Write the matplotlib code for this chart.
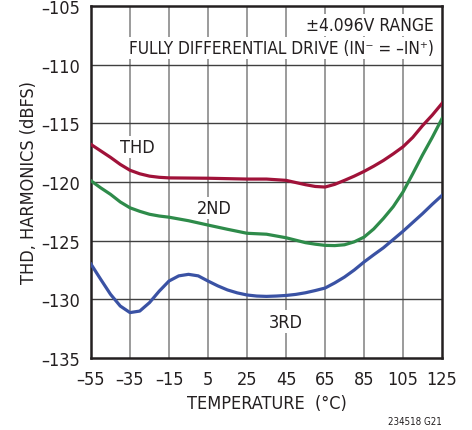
import numpy as np
import matplotlib
matplotlib.use("Agg")
import matplotlib.pyplot as plt

plt.rcParams['font.family'] = ['DejaVu Sans']
plt.rcParams['font.stretch'] = 'condensed'

# temperatures (degC) and readings (dBFS) taken off the datasheet plot
temp_thd = [-55, -50, -45, -40, -35, -30, -25, -20, -15, 5, 25, 35, 45, 55, 60, 65, 70, 75, 80,
            85, 90, 95, 100, 105, 110, 115, 120, 125]
thd = [-116.8, -117.35, -117.9, -118.5, -119.0, -119.3, -119.5, -119.6, -119.65, -119.68,
       -119.75, -119.75, -119.86, -120.23, -120.38, -120.43, -120.2, -119.86, -119.5, -119.1,
       -118.65, -118.16, -117.6, -117.0, -116.2, -115.2, -114.3, -113.3]

temp_2nd = [-55, -50, -45, -40, -35, -30, -25, -20, -15, -5, 5, 15, 25, 35, 45, 55, 60, 65, 70,
            75, 80, 85, 90, 95, 100, 105, 110, 115, 120, 125]
second = [-119.9, -120.5, -121.05, -121.7, -122.2, -122.5, -122.75, -122.9, -123.0, -123.3,
          -123.67, -124.03, -124.37, -124.45, -124.75, -125.17, -125.3, -125.4, -125.42, -125.35,
          -125.1, -124.7, -124.0, -123.1, -122.1, -120.85, -119.3, -117.7, -116.2, -114.6]

temp_3rd = [-55, -50, -45, -40, -35, -30, -25, -20, -15, -10, -5, 0, 5, 10, 15, 20, 25, 30, 35,
            40, 45, 50, 55, 60, 65, 70, 75, 80, 85, 90, 95, 100, 105, 110, 115, 120, 125]
third = [-127.0, -128.3, -129.57, -130.57, -131.13, -131.0, -130.28, -129.3, -128.44, -128.0,
         -127.87, -128.0, -128.44, -128.85, -129.2, -129.45, -129.63, -129.72, -129.75, -129.72,
         -129.67, -129.58, -129.44, -129.25, -129.04, -128.6, -128.1, -127.5, -126.82, -126.2,
         -125.6, -124.9, -124.2, -123.45, -122.7, -121.9, -121.14]

xticks = [-55, -35, -15, 5, 25, 45, 65, 85, 105, 125]
yticks = [-135, -130, -125, -120, -115, -110, -105]

c_thd = "#A01239"
c_2nd = "#2E8B4A"
c_3rd = "#3A52A4"

fig = plt.figure(figsize=(4.72, 4.31), dpi=100)
ax = fig.add_axes([91/472, 1-359/431, 351/472, 352/431])

ax.plot(temp_thd, thd, color=c_thd, lw=2.3, zorder=3)
ax.plot(temp_2nd, second, color=c_2nd, lw=2.3, zorder=3)
ax.plot(temp_3rd, third, color=c_3rd, lw=2.3, zorder=3)

ax.set_xlim(-55, 125)
ax.set_ylim(-135, -105)
ax.set_xticks(xticks)
ax.set_yticks(yticks)
ax.set_xticklabels([str(t).replace('-', '\u2013') for t in xticks])
ax.set_yticklabels([str(t).replace('-', '\u2013') for t in yticks])
ax.tick_params(length=0, labelsize=13, colors='#231f20')
ax.tick_params(axis='x', pad=9)
ax.tick_params(axis='y', pad=8)

for v in xticks[1:-1]:
    ax.axvline(v, color='#808080', lw=1.1, zorder=1)
for v in yticks[1:-1]:
    ax.axhline(v, color='#404040', lw=1.0, zorder=1)
for s in ax.spines.values():
    s.set_linewidth(1.8)
    s.set_color('#231f20')

box = dict(facecolor='white', edgecolor='none', pad=1.5)
ax.text(121, -106.6, '\u00b14.096V RANGE', ha='right', va='center', fontsize=12.5,
        color='#231f20', bbox=box, zorder=2)
ax.text(121, -108.55, 'FULLY DIFFERENTIAL DRIVE (IN\u207b = \u2013IN\u207a)', ha='right',
        va='center', fontsize=12.3, color='#231f20', bbox=box, zorder=2)
ax.text(-31, -117.0, 'THD', ha='center', va='center', fontsize=13, color='#231f20', bbox=box, zorder=2)
ax.text(8, -122.2, '2ND', ha='center', va='center', fontsize=13, color='#231f20', bbox=box, zorder=2)
ax.text(45, -131.9, '3RD', ha='center', va='center', fontsize=13, color='#231f20', bbox=box, zorder=2)

ax.set_xlabel('TEMPERATURE  (\u00b0C)', fontsize=13, color='#231f20', labelpad=4)
ax.set_ylabel('THD, HARMONICS (dBFS)', fontsize=13, color='#231f20', labelpad=2)
fig.text(442/472, 1-422/431, '234518 G21', ha='right', va='center', fontsize=7, color='#231f20')

fig.savefig('out.png', dpi=100)
